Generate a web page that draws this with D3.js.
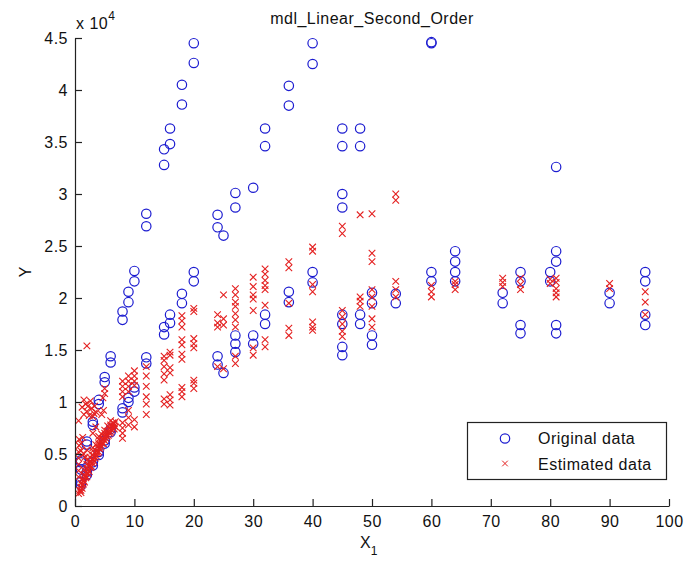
<!DOCTYPE html>
<html>
<head>
<meta charset="utf-8">
<script src="https://cdn.jsdelivr.net/npm/d3@7"></script>
<style>
  html, body { margin: 0; padding: 0; background: #fff; }
  svg text { font-family: "Liberation Sans", Arial, Helvetica, sans-serif; fill: #111; }
</style>
</head>
<body>
<svg id="chart" width="688" height="564"></svg>
<script>
// Axis ticks
const xTicks = [0, 10, 20, 30, 40, 50, 60, 70, 80, 90, 100];
const yTicks = [0, 5000, 10000, 15000, 20000, 25000, 30000, 35000, 40000, 45000];

// Observed responses [X1, Y]
const originalData = [
  [1,2000],[1,2300],[1,3500],[1,4200],[1,4400],
  [2,3000],[2,3300],[2,5900],[2,6200],
  [3,3900],[3,4200],[3,7800],[3,8100],
  [4,4900],[4,5200],[4,9800],[4,10200],
  [5,6000],[5,6300],[5,11900],[5,12400],
  [6,7100],[6,7400],[6,13800],[6,14400],
  [8,9000],[8,9400],[8,17900],[8,18700],
  [9,10000],[9,10400],[9,19600],[9,20600],
  [10,11000],[10,11400],[10,21600],[10,22600],
  [12,13700],[12,14300],[12,26900],[12,28100],
  [15,16500],[15,17200],[15,32800],[15,34300],
  [16,17600],[16,18400],[16,34800],[16,36300],
  [18,19500],[18,20400],[18,38600],[18,40500],
  [20,21600],[20,22500],[20,42600],[20,44500],
  [24,13600],[24,14400],[24,26800],[24,28000],
  [25,12800],[25,26000],
  [27,14800],[27,15600],[27,16400],[27,28700],[27,30100],
  [30,15600],[30,16400],[30,30600],
  [32,17500],[32,18400],[32,34600],[32,36300],
  [36,19600],[36,20600],[36,38500],[36,40400],
  [40,21500],[40,22500],[40,42500],[40,44500],
  [45,14500],[45,15300],[45,17500],[45,18400],[45,28700],[45,30000],[45,34600],[45,36300],
  [48,17500],[48,18400],[48,34600],[48,36300],
  [50,15500],[50,16400],[50,19500],[50,20500],
  [54,19500],[54,20400],
  [60,21600],[60,22500],[60,44500],[60,44600],
  [64,21600],[64,22500],[64,23500],[64,24500],
  [72,19500],[72,20500],
  [75,16600],[75,17400],[75,21600],[75,22500],
  [80,21600],[80,22500],
  [81,16600],[81,17400],[81,23500],[81,24500],[81,32600],
  [90,19500],[90,20500],
  [96,17400],[96,18400],[96,21600],[96,22500]
];

// Model estimates [X1, Y]
const estimatedData = [
  [0.6,1200],[0.8,1500],[1,1300],[1,1800],[1,2200],[1.2,2000],[1.3,2600],[1.5,2400],
  [1.5,3000],[1.7,2900],[2,3200],[2,3600],[2,4000],[2.2,3500],[2.4,3900],[2.5,4300],
  [2.7,4200],[3,4500],[3,4900],[3,5300],[3.2,4700],[3.4,5100],[3.6,5300],[3.8,5700],
  [4,5600],[4,6000],[4,6400],[4.2,5900],[4.4,6200],[4.6,6500],[4.8,6400],[5,6700],
  [5,7000],[5.2,6800],[5.4,7200],[5.6,7100],[5.8,7500],[6,7400],[6,7800],[6.2,7700],
  [6.4,8000],[6.6,7900],
  [1,1500],[1.2,1700],[1.4,2100],[1.6,2300],[1.8,2700],[2,2800],[2.2,3100],[2.4,3300],
  [2.6,3700],[2.8,3800],[3,4100],[3.2,4300],[3.4,4600],[3.6,4800],[3.8,5100],[4,5200],
  [4.2,5500],[4.4,5700],[4.6,6000],[4.8,6000],[5,6300],[5.2,6500],[5.4,6700],[5.6,6800],
  [5.8,7000],[6,7100],[6.2,7300],[6.4,7500],[6.6,7400],[6.6,7700],[6.8,7600],[6.8,8100],
  [3,5600],[2.5,4700],[2,4400],[1.5,3500],[4,6700],[5,7300],[3.5,5900],[4.5,6900],
  [5.5,7700],[6,8200],
  [0.6,2800],[0.6,3400],[0.6,4000],[0.6,4600],[0.6,5200],[0.7,5800],[0.7,6400],[0.6,8200],
  [1,5300],[1,6000],[1.3,6600],[1.5,5000],[1.7,4700],[2,5400],[1.2,9500],[1.5,8800],
  [1.8,9800],[2,9100],[2.4,8700],[2.8,9400],[3,8600],[3.3,9600],[4.5,8800],[4.8,9200],
  [4.7,10400],[5,10800],[5,11300],[3,7000],[3.5,7600],
  [2.2,9600],[2.6,10100],[3.6,9000],[1.5,10200],[3.2,8900],
  [2,15400],
  [8,6500],[8,7000],[8,7500],[8,8000],[8,10500],[8,11000],[8,11500],[8,12000],
  [9,7800],[9,8500],[9,9200],[9,11000],[9,11500],[9,12000],[9,12500],
  [10,7600],[10,8300],[10,11600],[10,12000],[10,12500],[10,13000],
  [12,8800],[12,9800],[12,10500],[12,11500],[12,12500],[12,13400],
  [15,9800],[15,10300],[15,12100],[15,12700],[15,13400],[15,14000],[15,14400],
  [16,9700],[16,10200],[16,10700],[16,12800],[16,13300],[16,14500],[16,14800],
  [18,10500],[18,11000],[18,11400],[18,14100],[18,14600],[18,15500],[18,16000],[18,17200],[18,17800],[18,18300],
  [20,11300],[20,11800],[20,12100],[20,15200],[20,15600],[20,16100],[20,18700],[20,19000],
  [24,13400],[24,17200],[24,17600],[24,18400],
  [25,13200],[25,17400],[25,18000],[25,20300],
  [27,13700],[27,14400],[27,17200],[27,17900],[27,18500],[27,19200],[27,19600],[27,20300],[27,20900],
  [30,14500],[30,15200],[30,18800],[30,19900],[30,20300],[30,21100],[30,22000],
  [32,15300],[32,16000],[32,19300],[32,20800],[32,21200],[32,21700],[32,22300],[32,22800],
  [36,16400],[36,17100],[36,19500],[36,22900],[36,23500],
  [40,16900],[40,17200],[40,17700],[40,20600],[40,21300],[40,24500],[40,24900],
  [45,16300],[45,16800],[45,17500],[45,18200],[45,18800],[45,26200],[45,26900],
  [48,19200],[48,19700],[48,20100],[48,28000],
  [50,17200],[50,18000],[50,19200],[50,20100],[50,20800],[50,23500],[50,24300],[50,28100],
  [54,20100],[54,20800],[54,21600],[54,29400],[54,30000],
  [60,20100],[60,20600],[60,21200],
  [64,20800],[64,21300],[64,21600],
  [72,21100],[72,21500],[72,21900],
  [75,20800],[75,21300],[75,21900],
  [80,21400],[80,21800],
  [81,20100],[81,20500],[81,20900],[81,21500],[81,21900],
  [90,20900],[90,21400],
  [96,18400],[96,19600],[96,20600]
];

const seriesNames = ["Original data", "Estimated data"];
const titleText = "mdl_Linear_Second_Order";

const svg = d3.select("#chart");
const plot = { left: 75, right: 669, top: 38, bottom: 506 };
const blue = "#1c1cd0";
const red = "#e42020";
const fontSize = 16;

const x = d3.scaleLinear().domain([0, 100]).range([plot.left, plot.right]);
const y = d3.scaleLinear().domain([0, 45000]).range([plot.bottom, plot.top]);

// Markers
const circleR = 4.7;
const crossH = 3.3;
function crossPath(cx, cy, h) {
  return `M${cx - h},${cy - h}L${cx + h},${cy + h}M${cx - h},${cy + h}L${cx + h},${cy - h}`;
}

const marks = svg.append("g");
marks.selectAll("circle.orig")
  .data(originalData)
  .join("circle")
  .attr("class", "orig")
  .attr("cx", d => x(d[0]))
  .attr("cy", d => y(d[1]))
  .attr("r", circleR)
  .attr("fill", "none")
  .attr("stroke", blue)
  .attr("stroke-width", 1.2);

marks.selectAll("path.est")
  .data(estimatedData)
  .join("path")
  .attr("class", "est")
  .attr("d", d => crossPath(x(d[0]), y(d[1]), crossH))
  .attr("fill", "none")
  .attr("stroke", red)
  .attr("stroke-width", 1.1);

// Axes (ticks point inward)
const xAxis = d3.axisBottom(x).tickValues(xTicks).tickSizeInner(-7).tickSizeOuter(0).tickPadding(10);
const yAxis = d3.axisLeft(y).tickValues(yTicks).tickSizeInner(-7).tickSizeOuter(0).tickPadding(7)
  .tickFormat(d => d3.format("")(d / 10000));

const gx = svg.append("g").attr("transform", `translate(0,${plot.bottom})`).call(xAxis);
const gy = svg.append("g").attr("transform", `translate(${plot.left},0)`).call(yAxis);
[gx, gy].forEach(g => {
  g.selectAll("path.domain").attr("stroke", "#222").attr("stroke-width", 1.2);
  g.selectAll(".tick line").attr("stroke", "#222").attr("stroke-width", 1.2);
  g.selectAll(".tick text")
    .attr("fill", "#111")
    .style("font-size", fontSize + "px")
    .style("letter-spacing", "0.5px")
    .style("font-family", "'Liberation Sans', Arial, sans-serif");
});

// Exponent label
const expo = svg.append("text")
  .attr("x", 76).attr("y", 29)
  .style("font-size", fontSize + "px")
  .style("letter-spacing", "0.5px");
expo.append("tspan").text("x 10");
expo.append("tspan").attr("dy", -9).style("font-size", "12px").text("4");

// Title
svg.append("text")
  .attr("x", (plot.left + plot.right) / 2).attr("y", 24)
  .attr("text-anchor", "middle")
  .style("font-size", fontSize + "px")
  .style("letter-spacing", "0.5px")
  .text(titleText);

// Axis labels
const xl = svg.append("text")
  .attr("x", 360).attr("y", 548)
  .style("font-size", fontSize + "px");
xl.append("tspan").text("X");
xl.append("tspan").attr("dy", 7).style("font-size", "12px").text("1");

svg.append("text")
  .attr("transform", `translate(31,${(plot.top + plot.bottom) / 2}) rotate(-90)`)
  .attr("text-anchor", "middle")
  .style("font-size", fontSize + "px")
  .text("Y");

// Legend
const legend = svg.append("g");
legend.append("rect")
  .attr("x", 467.5).attr("y", 422.5)
  .attr("width", 199).attr("height", 57)
  .attr("fill", "#fff")
  .attr("stroke", "#222")
  .attr("stroke-width", 1.2);
legend.append("circle")
  .attr("cx", 505).attr("cy", 438.5).attr("r", circleR)
  .attr("fill", "none").attr("stroke", blue).attr("stroke-width", 1.2);
legend.append("path")
  .attr("d", crossPath(505, 463.5, 2.8))
  .attr("fill", "none").attr("stroke", red).attr("stroke-width", 1);
legend.selectAll("text.leg")
  .data(seriesNames)
  .join("text")
  .attr("class", "leg")
  .attr("x", 538)
  .attr("y", (d, i) => 444 + i * 26)
  .style("font-size", fontSize + "px")
  .style("letter-spacing", "0.5px")
  .text(d => d);
</script>
</body>
</html>
